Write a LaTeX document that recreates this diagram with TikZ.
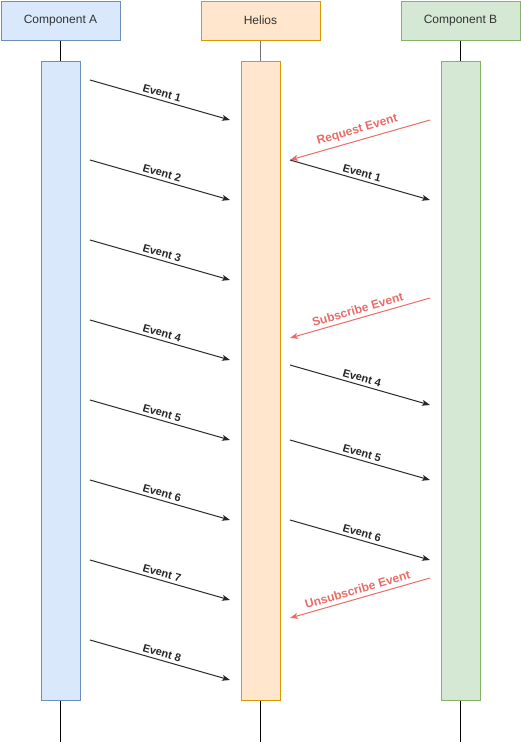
\documentclass[tikz,border=0pt]{standalone}
\usepackage{fontspec}
\setmainfont{Liberation Sans}
\usetikzlibrary{arrows.meta}
\usetikzlibrary{calc}
\usetikzlibrary{positioning}
\definecolor{compAfill}{RGB}{218, 232, 252}
\definecolor{compAline}{RGB}{108, 142, 191}
\definecolor{heliosfill}{RGB}{255, 230, 204}
\definecolor{heliosline}{RGB}{215, 155, 0}
\definecolor{compBfill}{RGB}{213, 232, 212}
\definecolor{compBline}{RGB}{130, 179, 102}
\definecolor{reqred}{RGB}{234, 107, 102}
\definecolor{headtext}{RGB}{51, 51, 51}

\begin{document}
\begin{tikzpicture}[x=1pt, y=-1pt,
    head/.style={draw, line width=1pt, minimum width=119pt, minimum height=39pt,
                 inner sep=0pt, font=\fontsize{12}{14}\selectfont, text=headtext},
    bar/.style={draw, line width=1pt, minimum width=39pt, minimum height=639pt, inner sep=0pt},
    life/.style={line width=1pt, black},
    msg/.style={line width=1pt, black!85, -{Stealth[length=8pt, width=6pt, inset=2pt]}},
    reqmsg/.style={msg, reqred},
    lbl/.style={midway, above=2pt, sloped, inner sep=1pt, text=black!85,
                font=\bfseries\fontsize{11}{13}\selectfont},
    reqlbl/.style={lbl, above=3pt, text=reqred,
                font=\bfseries\fontsize{12}{14}\selectfont}]
    \useasboundingbox (0,0) rectangle (521,742);
    % lifeline heads
    \node[head, draw=compAline,  fill=compAfill]  (compA)  at ( 60.5,20.5) {Component A};
    \node[head, draw=heliosline, fill=heliosfill] (helios) at (260.5,20.5) {Helios};
    \node[head, draw=compBline,  fill=compBfill]  (compB)  at (460.5,20.5) {Component B};
    % activation bars
    \node[bar, draw=compAline,  fill=compAfill]  (barA)      at ( 60.5,380.5) {};
    \node[bar, draw=heliosline, fill=heliosfill] (barHelios) at (260.5,380.5) {};
    \node[bar, draw=compBline,  fill=compBfill]  (barB)      at (460.5,380.5) {};
    \coordinate (endA)      at ( 60.5,742);
    \coordinate (endHelios) at (260.5,742);
    \coordinate (endB)      at (460.5,742);
    \foreach \who in {A,Helios,B}{
        \draw[life] (bar\who.south) -- (end\who);
    }
    \draw[life] (compA.south)  -- (barA.north);
    \draw[life, black!55] (helios.south) -- (barHelios.north);
    \draw[life] (compB.south)  -- (barB.north);
    % Component A -> Helios
    \foreach \n in {1,...,8}{
        \coordinate (a\n) at ( 90,80*\n);
        \coordinate (h\n) at (230,80*\n+40);
        \draw[msg] (a\n) -- (h\n) node[lbl] {Event~\n};
    }
    % Helios <-> Component B
    \coordinate (reqB)   at (430,120);  \coordinate (reqH)   at (290,160);
    \coordinate (ev1H)   at (290,160);  \coordinate (ev1B)   at (430,200);
    \coordinate (subB)   at (430,298);  \coordinate (subH)   at (290,338);
    \coordinate (ev4H)   at (290,365);  \coordinate (ev4B)   at (430,405);
    \coordinate (ev5H)   at (290,440);  \coordinate (ev5B)   at (430,480);
    \coordinate (ev6H)   at (290,520);  \coordinate (ev6B)   at (430,560);
    \coordinate (unsubB) at (430,578);  \coordinate (unsubH) at (290,618);
    \draw[reqmsg] (reqB) -- (reqH) node[reqlbl] {Request Event};
    \draw[msg] (ev1H) -- (ev1B) node[lbl] {Event~1};
    \draw[reqmsg] (subB) -- (subH) node[reqlbl] {Subscribe Event};
    \draw[msg] (ev4H) -- (ev4B) node[lbl] {Event~4};
    \draw[msg] (ev5H) -- (ev5B) node[lbl] {Event~5};
    \draw[msg] (ev6H) -- (ev6B) node[lbl] {Event~6};
    \draw[reqmsg] (unsubB) -- (unsubH) node[reqlbl] {Unsubscribe Event};
\end{tikzpicture}
\end{document}
